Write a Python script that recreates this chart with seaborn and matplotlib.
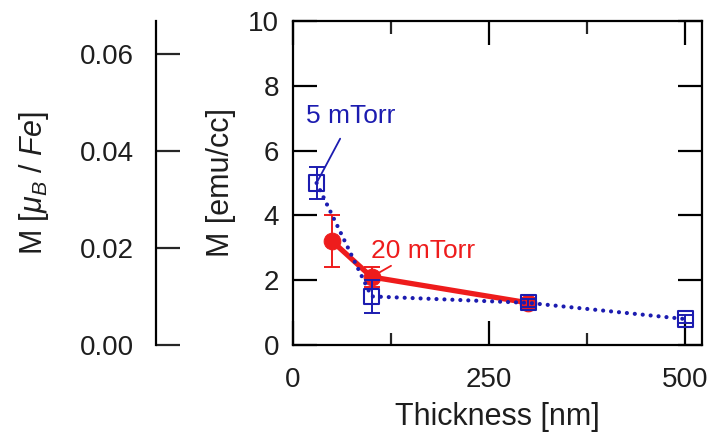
import numpy as np
import pandas as pd
import matplotlib
matplotlib.use("Agg")
import matplotlib.pyplot as plt
import seaborn as sns

# 5 mTorr films
thick_5 = [30, 100, 300, 500]
mag_5 = [5.0, 1.5, 1.3, 0.8]
err_5 = [0.5, 0.5, 0.12, 0.12]

# 20 mTorr films
thick_20 = [50, 100, 300]
mag_20 = [3.2, 2.1, 1.3]
err_20 = [0.8, 0.3, 0.15]

x_ticks = [0, 250, 500]
x_minor = [125, 375]
y_ticks = [0, 2, 4, 6, 8, 10]
mu_ticks = [0.00, 0.02, 0.04, 0.06]
mu_labels = ["0.00", "0.02", "0.04", "0.06"]

BLUE = "#1c1cb0"
RED = "#ee1c1c"
INK = "#1e1e1e"

sns.set_theme(style="ticks")
plt.rcParams["font.family"] = ["Liberation Sans", "DejaVu Sans"]
plt.rcParams["mathtext.fontset"] = "custom"
plt.rcParams["mathtext.rm"] = "Liberation Sans"
plt.rcParams["mathtext.it"] = "Liberation Sans:italic"

df5 = pd.DataFrame({"t": thick_5, "m": mag_5})
df20 = pd.DataFrame({"t": thick_20, "m": mag_20})

fig = plt.figure(figsize=(7.17, 4.34), dpi=100)
ax = fig.add_axes([0.4087, 0.2051, 0.5703, 0.7465])

# 20 mTorr series: thick red line with filled circles
sns.lineplot(data=df20, x="t", y="m", ax=ax, color=RED, linewidth=3.8,
             marker="o", markersize=12, markeredgecolor=RED,
             markerfacecolor=RED, sort=False, estimator=None, zorder=3)
ax.errorbar(thick_20, mag_20, yerr=err_20, fmt="none", ecolor=RED,
            elinewidth=1.4, capsize=6, capthick=1.4, zorder=3)

# 5 mTorr series: dotted blue line with open squares
sns.lineplot(data=df5, x="t", y="m", ax=ax, color=BLUE, linewidth=3.0,
             dashes=False, sort=False, estimator=None, zorder=4)
ax.lines[-1].set_linestyle((0, (0.01, 1.9)))
ax.lines[-1].set_dash_capstyle("round")
sns.scatterplot(data=df5, x="t", y="m", ax=ax, marker="s", s=120,
                facecolor="none", edgecolor=BLUE, linewidth=1.5, zorder=5)
ax.errorbar(thick_5, mag_5, yerr=err_5, fmt="none", ecolor=BLUE,
            elinewidth=1.4, capsize=6, capthick=1.4, zorder=5)

ax.set_xlim(0, 521)
ax.set_ylim(0, 10)
ax.set_xticks(x_ticks)
ax.set_xticks(x_minor, minor=True)
ax.set_yticks(y_ticks)
ax.tick_params(axis="both", which="major", direction="in", length=17,
               width=1.6, labelsize=20, color="black", labelcolor=INK,
               top=True, right=True)
ax.tick_params(axis="x", which="major", pad=16)
ax.tick_params(axis="y", which="major", pad=10)
ax.tick_params(axis="x", which="minor", direction="in", length=9,
               width=1.6, top=True, bottom=True)
for sp in ax.spines.values():
    sp.set_visible(True)
    sp.set_linewidth(1.6)
    sp.set_color("black")
ax.set_xlabel("Thickness [nm]", fontsize=22, color=INK, labelpad=6)
ax.set_ylabel("M [emu/cc]", fontsize=22, color=INK, labelpad=9)

ax.annotate("5 mTorr", xy=(thick_5[0], mag_5[0]), xytext=(16, 6.85),
            color=BLUE, fontsize=19,
            arrowprops=dict(arrowstyle="-", color=BLUE, lw=1.3,
                            shrinkA=6, shrinkB=0,
                            relpos=(0.45, 0.0)))
ax.annotate("20 mTorr", xy=(thick_20[1], mag_20[1]), xytext=(99, 2.7),
            color=RED, fontsize=19,
            arrowprops=dict(arrowstyle="-", color=RED, lw=1.3,
                            shrinkA=0, shrinkB=4,
                            relpos=(0.25, 0.0)))

# magnetic moment per Fe atom, same scale as emu/cc
ax2 = fig.add_axes([0.2176, 0.2051, 0.001, 0.7465])
ax2.set_ylim(0, 0.0668)
ax2.set_xticks([])
ax2.set_yticks(mu_ticks)
ax2.set_yticklabels(mu_labels)
for name, sp in ax2.spines.items():
    sp.set_visible(name == "left")
ax2.spines["left"].set_linewidth(1.6)
ax2.spines["left"].set_color("black")
ax2.patch.set_visible(False)
ax2.tick_params(axis="y", direction="in", length=17, width=1.6,
                labelsize=20, pad=16, labelcolor=INK)
ax2.set_ylabel(r"M [$\mu_B$ / $Fe$]", fontsize=22, color=INK,
               labelpad=21)

fig.savefig("out.png", dpi=100)
